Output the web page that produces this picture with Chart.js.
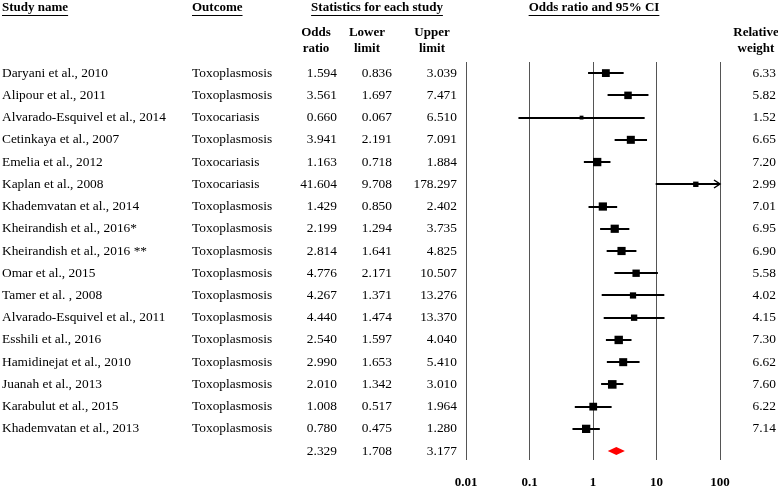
<!DOCTYPE html>
<html>
<head>
<meta charset="utf-8">
<script src="https://cdn.jsdelivr.net/npm/chart.js@4.4.0/dist/chart.umd.min.js"></script>
<style>
html, body { margin: 0; padding: 0; background: #fff; }
#wrap { width: 778px; height: 487px; position: relative; }
</style>
</head>
<body>
<div id="wrap"><canvas id="forest" width="778" height="487"></canvas></div>
<script>
// data
const studies = [
    'Daryani et al., 2010', 'Alipour et al., 2011', 'Alvarado-Esquivel et al., 2014',
    'Cetinkaya et al., 2007', 'Emelia et al., 2012', 'Kaplan et al., 2008',
    'Khademvatan et al., 2014', 'Kheirandish et al., 2016*', 'Kheirandish et al., 2016 **',
    'Omar et al., 2015', 'Tamer et al. , 2008', 'Alvarado-Esquivel et al., 2011',
    'Esshili et al., 2016', 'Hamidinejat et al., 2010', 'Juanah et al., 2013',
    'Karabulut et al., 2015', 'Khademvatan et al., 2013'
];
const outcomes = [
    'Toxoplasmosis', 'Toxoplasmosis', 'Toxocariasis', 'Toxoplasmosis', 'Toxocariasis',
    'Toxocariasis', 'Toxoplasmosis', 'Toxoplasmosis', 'Toxoplasmosis', 'Toxoplasmosis',
    'Toxoplasmosis', 'Toxoplasmosis', 'Toxoplasmosis', 'Toxoplasmosis', 'Toxoplasmosis',
    'Toxoplasmosis', 'Toxoplasmosis'
];
const oddsRatio = [1.594, 3.561, 0.660, 3.941, 1.163, 41.604, 1.429, 2.199, 2.814,
    4.776, 4.267, 4.440, 2.540, 2.990, 2.010, 1.008, 0.780];
const lowerLimit = [0.836, 1.697, 0.067, 2.191, 0.718, 9.708, 0.850, 1.294, 1.641,
    2.171, 1.371, 1.474, 1.597, 1.653, 1.342, 0.517, 0.475];
const upperLimit = [3.039, 7.471, 6.510, 7.091, 1.884, 178.297, 2.402, 3.735, 4.825,
    10.507, 13.276, 13.370, 4.040, 5.410, 3.010, 1.964, 1.280];
const relWeight = [6.33, 5.82, 1.52, 6.65, 7.20, 2.99, 7.01, 6.95, 6.90,
    5.58, 4.02, 4.15, 7.30, 6.62, 7.60, 6.22, 7.14];
const summary = [2.329, 1.708, 3.177]; // OR, lower, upper
const xTicks = [0.01, 0.1, 1, 10, 100];

const FONT = '"Liberation Serif", "Times New Roman", serif';
const summaryRow = studies.length;

// table text, CI whiskers and the pooled diamond
const forestTable = {
    id: 'forestTable',
    beforeDatasetsDraw(chart) {
        const ctx = chart.ctx;
        const xs = chart.scales.x, ys = chart.scales.y;
        ctx.save();
        ctx.strokeStyle = '#000';
        ctx.lineWidth = 2;
        for (let i = 0; i < studies.length; i++) {
            const y = Math.round(ys.getPixelForValue(i));
            const x1 = xs.getPixelForValue(Math.max(lowerLimit[i], xs.min));
            const x2 = xs.getPixelForValue(Math.min(upperLimit[i], xs.max));
            ctx.beginPath();
            ctx.moveTo(x1, y);
            ctx.lineTo(x2, y);
            ctx.stroke();
            if (upperLimit[i] > xs.max) {
                ctx.lineWidth = 1.5;
                ctx.beginPath();
                ctx.moveTo(x2 - 6, y - 4);
                ctx.lineTo(x2, y);
                ctx.lineTo(x2 - 6, y + 4);
                ctx.stroke();
                ctx.lineWidth = 2;
            }
        }
        // pooled estimate
        const yS = ys.getPixelForValue(summaryRow);
        ctx.fillStyle = '#ff0000';
        ctx.beginPath();
        ctx.moveTo(xs.getPixelForValue(summary[1]), yS);
        ctx.lineTo(xs.getPixelForValue(summary[0]), yS - 4);
        ctx.lineTo(xs.getPixelForValue(summary[2]), yS);
        ctx.lineTo(xs.getPixelForValue(summary[0]), yS + 4);
        ctx.closePath();
        ctx.fill();
        ctx.restore();
    },
    afterDraw(chart) {
        const ctx = chart.ctx;
        const ys = chart.scales.y;
        ctx.save();
        ctx.fillStyle = '#000';
        ctx.strokeStyle = '#000';
        ctx.textBaseline = 'middle';

        // headers
        ctx.font = 'bold 13px ' + FONT;
        const underlined = (txt, x, y, align) => {
            ctx.textAlign = align;
            ctx.fillText(txt, x, y);
            const w = ctx.measureText(txt).width;
            const left = align === 'center' ? x - w / 2 : x;
            ctx.lineWidth = 1;
            ctx.beginPath();
            ctx.moveTo(left, y + 7.5);
            ctx.lineTo(left + w, y + 7.5);
            ctx.stroke();
        };
        underlined('Study name', 2, 8, 'left');
        underlined('Outcome', 192, 8, 'left');
        underlined('Statistics for each study', 377, 8, 'center');
        underlined('Odds ratio and 95% CI', 594, 8, 'center');

        ctx.textAlign = 'center';
        [['Odds', 'ratio', 316], ['Lower', 'limit', 367], ['Upper', 'limit', 432],
         ['Relative', 'weight', 756]].forEach(([a, b, x]) => {
            ctx.fillText(a, x, 33);
            ctx.fillText(b, x, 49);
        });

        // rows
        ctx.font = '13.4px ' + FONT;
        for (let i = 0; i <= studies.length; i++) {
            const y = ys.getPixelForValue(i);
            const isSum = i === summaryRow;
            if (!isSum) {
                ctx.textAlign = 'left';
                ctx.fillText(studies[i], 2, y);
                ctx.fillText(outcomes[i], 192, y);
            }
            ctx.textAlign = 'right';
            ctx.fillText((isSum ? summary[0] : oddsRatio[i]).toFixed(3), 337, y);
            ctx.fillText((isSum ? summary[1] : lowerLimit[i]).toFixed(3), 392, y);
            ctx.fillText((isSum ? summary[2] : upperLimit[i]).toFixed(3), 457, y);
            if (!isSum) ctx.fillText(relWeight[i].toFixed(2), 776, y);
        }
        ctx.restore();
    }
};

new Chart(document.getElementById('forest'), {
    type: 'scatter',
    data: {
        datasets: [{
            data: oddsRatio.map((v, i) => ({ x: v, y: i })),
            pointStyle: 'rect',
            pointRadius: relWeight.map(w => 2.2 * Math.sqrt(w)),
            backgroundColor: '#000',
            borderWidth: 0
        }]
    },
    options: {
        responsive: false,
        animation: false,
        events: [],
        layout: { padding: { left: 466, right: 58, top: 62, bottom: 0 } },
        plugins: { legend: { display: false }, tooltip: { enabled: false } },
        scales: {
            x: {
                type: 'logarithmic',
                min: 0.01,
                max: 100,
                afterBuildTicks: s => { s.ticks = xTicks.map(v => ({ value: v })); },
                afterFit: s => { s.height = 27; },
                ticks: {
                    autoSkip: false,
                    maxRotation: 0,
                    padding: 15,
                    color: '#000',
                    font: { family: FONT, size: 13, weight: 'bold' },
                    callback: v => String(v)
                },
                grid: { color: '#555', lineWidth: 1, drawTicks: false },
                border: { display: false }
            },
            y: {
                type: 'linear',
                min: -0.5,
                max: 17.4,
                reverse: true,
                display: false
            }
        }
    },
    plugins: [forestTable]
});
</script>
</body>
</html>
